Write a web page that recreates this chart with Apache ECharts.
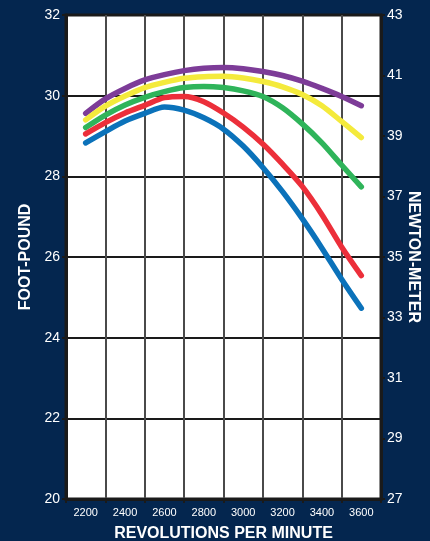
<!DOCTYPE html>
<html>
<head>
<meta charset="utf-8">
<script src="https://cdn.jsdelivr.net/npm/echarts@6/dist/echarts.min.js"></script>
<style>
html,body{margin:0;padding:0;background:#04264f;}
#c{width:430px;height:541px;}
</style>
</head>
<body>
<div id="c"></div>
<script>
// ---- data ----
const rpm = [2200, 2300, 2400, 2500, 2600, 2700, 2800, 2900, 3000, 3100, 3200, 3300, 3400, 3500, 3600];
const rpmLabels = ['2200', '2400', '2600', '2800', '3000', '3200', '3400', '3600'];
const purple = [29.56, 29.92, 30.18, 30.39, 30.52, 30.62, 30.68, 30.70, 30.67, 30.60, 30.50, 30.36, 30.18, 29.98, 29.75];
const yellow = [29.40, 29.74, 29.99, 30.20, 30.33, 30.43, 30.47, 30.48, 30.44, 30.35, 30.22, 30.03, 29.75, 29.36, 28.96];
const green  = [29.21, 29.52, 29.77, 29.96, 30.10, 30.20, 30.23, 30.20, 30.12, 29.98, 29.70, 29.30, 28.83, 28.28, 27.74];
const red    = [29.05, 29.33, 29.57, 29.76, 29.95, 29.98, 29.85, 29.57, 29.22, 28.80, 28.30, 27.75, 27.05, 26.25, 25.54];
const blue   = [28.83, 29.11, 29.37, 29.56, 29.72, 29.64, 29.45, 29.17, 28.75, 28.22, 27.62, 26.95, 26.22, 25.45, 24.73];
const seriesDefs = [
  {name: 'purple', values: purple, color: '#7d3c98'},
  {name: 'yellow', values: yellow, color: '#f4ea3c'},
  {name: 'green',  values: green,  color: '#2fb45a'},
  {name: 'red',    values: red,    color: '#ec2f3a'},
  {name: 'blue',   values: blue,   color: '#0b72ba'}
];

const font = '"Liberation Sans", Arial, sans-serif';
const chart = echarts.init(document.getElementById('c'), null, {renderer: 'canvas'});
chart.setOption({
  backgroundColor: '#04264f',
  animation: false,
  grid: {left: 66, right: 49, top: 15, bottom: 42, outerBoundsMode: 'none', containLabel: false,
         show: true, backgroundColor: '#ffffff', borderColor: '#1a1a1a', borderWidth: 3},
  xAxis: [
    {
      type: 'value', min: 2100, max: 3700, interval: 200, position: 'bottom',
      axisLine: {show: true, lineStyle: {color: '#1a1a1a', width: 3}},
      axisTick: {show: true, length: 4, lineStyle: {color: '#1a1a1a', width: 2}},
      axisLabel: {show: false},
      splitLine: {show: true, lineStyle: {color: '#4a4a4a', width: 2}}
    },
    {
      type: 'category', data: rpmLabels, boundaryGap: true, position: 'bottom',
      axisLine: {show: false}, axisTick: {show: false},
      axisLabel: {color: '#ffffff', fontSize: 11, fontFamily: font, margin: 8},
      splitLine: {show: false},
      name: 'REVOLUTIONS PER MINUTE', nameLocation: 'middle', nameGap: 27,
      nameTextStyle: {color: '#ffffff', fontSize: 16, fontWeight: 'bold', fontFamily: font}
    }
  ],
  yAxis: [
    {
      type: 'value', min: 20, max: 32, interval: 2, position: 'left',
      axisLine: {show: true, lineStyle: {color: '#1a1a1a', width: 3}},
      axisTick: {show: true, length: 4, lineStyle: {color: '#1a1a1a', width: 2}},
      axisLabel: {color: '#ffffff', fontSize: 14, fontFamily: font, margin: 6},
      splitLine: {show: true, lineStyle: {color: '#1a1a1a', width: 2}},
      name: 'FOOT-POUND', nameLocation: 'middle', nameGap: 31, nameRotate: 90,
      nameTextStyle: {color: '#ffffff', fontSize: 16, fontWeight: 'bold', fontFamily: font}
    },
    {
      type: 'value', min: 27, max: 43, interval: 2, position: 'right',
      axisLine: {show: true, lineStyle: {color: '#1a1a1a', width: 3}},
      axisTick: {show: true, length: 4, lineStyle: {color: '#1a1a1a', width: 2}},
      axisLabel: {color: '#ffffff', fontSize: 14, fontFamily: font, margin: 6},
      splitLine: {show: false},
      name: 'NEWTON-METER', nameLocation: 'middle', nameGap: 24, nameRotate: -90, nameMoveOverlap: false,
      nameTextStyle: {color: '#ffffff', fontSize: 16, fontWeight: 'bold', fontFamily: font}
    }
  ],
  series: seriesDefs.map(s => ({
    name: s.name, type: 'line', xAxisIndex: 0, yAxisIndex: 0,
    data: rpm.map((r, i) => [r, s.values[i]]),
    smooth: 0.3, showSymbol: false, symbol: 'none',
    lineStyle: {color: s.color, width: 5.5, cap: 'round', join: 'round'}
  }))
});
</script>
</body>
</html>
